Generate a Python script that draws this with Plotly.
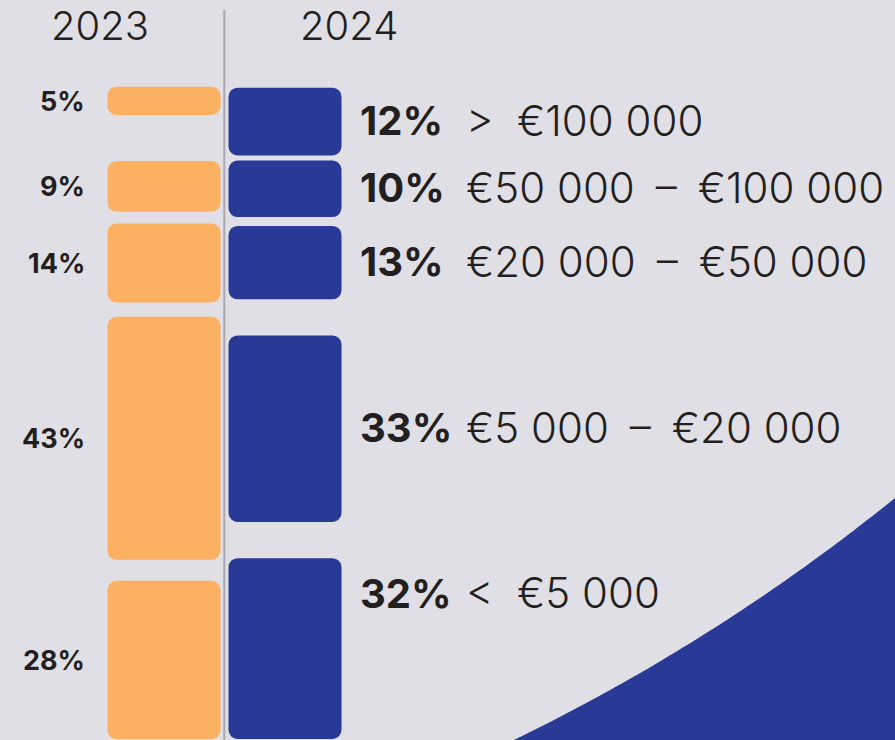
import numpy as np
import plotly.graph_objects as go

# ---------------- data ----------------
range_labels = [">\u00a0\u00a0€100 000", "€50 000\u2002\u2013\u2002€100 000", "€20 000\u2002\u2013\u2002€50 000",
                "€5 000\u2002\u2013\u2002€20 000", "<\u00a0\u00a0€5 000"]
share_2023 = [5, 9, 14, 43, 28]
share_2024 = [12, 10, 13, 33, 32]
years = ["2023", "2024"]

# ---------------- layout constants ----------------
W, H = 895, 740
BG = "#e1dfe6"
ORANGE = "#fbb062"
BLUE = "#283996"
TEXT = "#231f20"
PX_PER_PCT = 5.65
BOTTOM = 739.0
GAPS_2023 = [46.0, 11.65, 14.35, 21.0]   # gaps between consecutive segments (top → bottom)
GAPS_2024 = [5.05, 8.85, 36.1, 36.3]
LINE_X = 224.3
BAR_LEN = 113
ORANGE_BASE = 220.5
BLUE_BASE = 228.5
FONT = "Inter"


def stack(values, gaps):
    """Return centres and thicknesses of stacked segments (drawn bottom-up)."""
    thick = [v * PX_PER_PCT for v in values]
    centres = [0.0] * len(values)
    tops = [0.0] * len(values)
    y = BOTTOM
    for i in reversed(range(len(values))):
        top = y - thick[i]
        centres[i] = (top + y) / 2
        tops[i] = top
        if i > 0:
            y = top - gaps[i - 1]
    return centres, thick, tops


c23, t23, top23 = stack(share_2023, GAPS_2023)
c24, t24, top24 = stack(share_2024, GAPS_2024)

fig = go.Figure()
fig.add_trace(go.Bar(
    orientation="h", y=c23, width=t23, x=[-BAR_LEN] * len(share_2023), base=ORANGE_BASE,
    marker=dict(color=ORANGE, cornerradius=9, line=dict(width=0)),
    hoverinfo="skip", showlegend=False, name=years[0]))
fig.add_trace(go.Bar(
    orientation="h", y=c24, width=t24, x=[BAR_LEN] * len(share_2024), base=BLUE_BASE,
    marker=dict(color=BLUE, cornerradius=9, line=dict(width=0)),
    hoverinfo="skip", showlegend=False, name=years[1]))

ann = []
# year headings
ann.append(dict(x=100, y=25, text=years[0], showarrow=False, xanchor="center", yanchor="middle",
                font=dict(family=FONT, size=40, weight=300, color=TEXT)))
ann.append(dict(x=349, y=25, text=years[1], showarrow=False, xanchor="center", yanchor="middle",
                font=dict(family=FONT, size=40, weight=300, color=TEXT)))
# left labels (2023)
for v, c in zip(share_2023, c23):
    ann.append(dict(x=87, y=c + 0.5, text=f"<b>{v}%</b>", showarrow=False, xanchor="right",
                    yanchor="middle", font=dict(family=FONT, size=27, color=TEXT)))
# right labels (2024)
for i, (v, c, tp, lab) in enumerate(zip(share_2024, c24, top24, range_labels)):
    yy = c - 1 if i < len(share_2024) - 1 else tp + 35
    ann.append(dict(x=358, y=yy, text=f"<b>{v}%</b>", showarrow=False, xanchor="left",
                    yanchor="middle", font=dict(family=FONT, size=40, color=TEXT)))
    ann.append(dict(x=464, y=yy - 0.5, text=lab, showarrow=False, xanchor="left",
                    yanchor="middle", font=dict(family=FONT, size=42, weight=300, color=TEXT)))

# decorative blue circle segment bottom-right
cx, cy, r = -354.0, -1048.0, 1987.5
ang = np.linspace(np.arctan2(740 - cy, 513 - cx) + 0.01, np.arctan2(480 - cy, 900 - cx) - 0.01, 80)
pts = [(cx + r * np.cos(a), cy + r * np.sin(a)) for a in ang]
path = "M 500,745 L " + " L ".join(f"{x:.1f},{y:.1f}" for x, y in pts) + " L 900,480 L 900,745 Z"

shapes = [
    dict(type="path", path=path, xref="x", yref="y", fillcolor=BLUE, line=dict(width=0), layer="below"),
    dict(type="line", x0=LINE_X, x1=LINE_X, y0=10, y1=745, xref="x", yref="y",
         line=dict(color="#a9a8af", width=2), layer="above"),
]

fig.update_layout(
    width=W, height=H, margin=dict(l=0, r=0, t=0, b=0),
    paper_bgcolor=BG, plot_bgcolor=BG, barmode="overlay",
    xaxis=dict(range=[0, W], visible=False, fixedrange=True),
    yaxis=dict(range=[H, 0], visible=False, fixedrange=True),
    annotations=ann, shapes=shapes, showlegend=False,
)
fig.write_html("out.html", config={"displayModeBar": False},
               post_script="document.body.style.margin='0';document.body.style.overflow='hidden';")
